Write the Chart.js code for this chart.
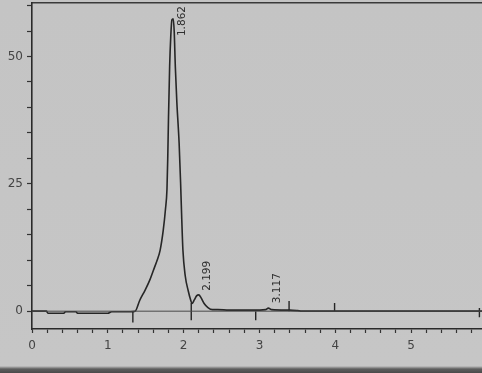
<!DOCTYPE html>
<html>
<head>
<meta charset="utf-8">
<script src="https://cdn.jsdelivr.net/npm/chart.js@4/dist/chart.umd.min.js"></script>
<style>
  html, body { margin: 0; padding: 0; overflow: hidden; }
  body {
    width: 482px; height: 373px;
    background: linear-gradient(to bottom, #c4c4c4 0, #c6c6c6 366px, #5e5e5e 369px, #4a4a4a 373px);
  }
  #wrap { position: relative; width: 492px; height: 373px; }
  canvas { display: block; }
</style>
</head>
<body>
<div id="wrap"><canvas id="chart" width="492" height="373"></canvas></div>
<script>
// retention time (min) and detector signal
const times = [0, 0.19, 0.21, 0.42, 0.44, 0.58, 0.6, 1.0, 1.05, 1.3,
  1.36, 1.42, 1.49, 1.55, 1.6, 1.65, 1.69, 1.73, 1.76, 1.78, 1.79, 1.8, 1.815, 1.83, 1.845, 1.862,
  1.875, 1.89, 1.91, 1.94, 1.96, 1.975, 1.99, 2.02, 2.06, 2.09, 2.11,
  2.14, 2.17, 2.199, 2.23, 2.27, 2.32, 2.38, 2.45, 2.6, 2.9, 3.08, 3.117, 3.16, 3.4, 3.5, 3.56, 6.0];
const signal = [0, 0, -0.4, -0.4, -0.1, -0.1, -0.4, -0.4, -0.1, -0.1,
  0, 2.1, 4.1, 6, 8, 10, 12, 15.8, 20, 24, 30, 38, 48, 54, 57.2, 57.4,
  55, 48, 41, 33, 25, 18, 12, 7, 4, 2.3, 1.5,
  2.2, 3.0, 3.2, 2.6, 1.5, 0.7, 0.3, 0.3, 0.2, 0.2, 0.3, 0.6, 0.3, 0.2, 0.1, 0, 0];

// integrator baseline
const baseTimes = [0, 6];
const baseValues = [0, 0];

// peak labels
const peakTimes = [1.862, 2.199, 3.117];
const peakHeights = [57.4, 3.2, 0.6];
const peakNames = ['1.862', '2.199', '3.117'];

// event marks on the baseline (start / end of integration)
const eventTimes = [1.33, 2.10, 2.95, 3.39, 3.99, 5.9];
const eventLow = [-2.2, -1.8, -1.8, 0, 0, -1.2];
const eventHigh = [0, 1.6, 0, 2.0, 1.6, 0.6];

const xTicksStep = 0.2;
const yTicksStep = 5;

const traceData = times.map((t, i) => ({ x: t, y: signal[i] }));
const baseData = baseTimes.map((t, i) => ({ x: t, y: baseValues[i] }));
const eventData = [];
eventTimes.forEach((t, i) => {
  eventData.push({ x: t, y: eventLow[i] }, { x: t, y: eventHigh[i] }, { x: t, y: null });
});

const ink = '#262626';

// no extra room for half labels at the axis ends
const noEndPadding = s => {
  s.paddingTop = 0; s.paddingBottom = 0; s.paddingLeft = 0; s.paddingRight = 0;
};

const peakLabels = {
  id: 'peakLabels',
  afterDatasetsDraw(chart) {
    const { ctx, scales: { x, y }, chartArea } = chart;
    ctx.save();
    ctx.font = '10.5px "DejaVu Sans", sans-serif';
    ctx.fillStyle = '#2e2e2e';
    ctx.textBaseline = 'middle';
    ctx.textAlign = 'left';
    peakTimes.forEach((t, i) => {
      const px = x.getPixelForValue(t) + 9;
      const w = ctx.measureText(peakNames[i]).width;
      let py = y.getPixelForValue(peakHeights[i]) - 4;
      py = Math.max(Math.min(py, y.getPixelForValue(0) - 8), chartArea.top + w + 3);
      ctx.save();
      ctx.translate(px, py);
      ctx.rotate(-Math.PI / 2);
      ctx.fillText(peakNames[i], 0, 0);
      ctx.restore();
    });
    ctx.restore();
  }
};

new Chart(document.getElementById('chart'), {
  type: 'line',
  data: {
    datasets: [
      { data: baseData, borderColor: '#4a4a4a', borderWidth: 1, pointRadius: 0 },
      { data: traceData, borderColor: ink, borderWidth: 1.6, pointRadius: 0, cubicInterpolationMode: 'monotone' },
      { data: eventData, borderColor: ink, borderWidth: 1.4, pointRadius: 0, spanGaps: false }
    ]
  },
  plugins: [peakLabels],
  options: {
    responsive: false,
    animation: false,
    events: [],
    layout: { padding: { top: 3, right: 5, left: 0, bottom: 0 } },
    plugins: { legend: { display: false }, tooltip: { enabled: false } },
    scales: {
      x: {
        type: 'linear',
        min: 0,
        max: 6,
        afterFit: s => { s.height = 44; noEndPadding(s); },
        border: { display: true, color: '#2a2a2a', width: 1.6 },
        grid: { drawOnChartArea: false, drawTicks: true, tickLength: 4, tickColor: '#333', tickWidth: 1.2 },
        ticks: {
          stepSize: xTicksStep,
          autoSkip: false,
          includeBounds: false,
          maxRotation: 0,
          padding: 6,
          color: '#444',
          font: { family: '"DejaVu Sans", sans-serif', size: 12 },
          callback: v => Math.abs(v - Math.round(v)) < 1e-6 ? String(Math.round(v)) : ''
        }
      },
      xTop: {
        type: 'linear',
        position: 'top',
        display: true,
        afterFit: s => { s.height = 0; noEndPadding(s); },
        border: { display: true, color: '#3a3a3a', width: 1.5 },
        grid: { display: false },
        ticks: { display: false }
      },
      y: {
        type: 'linear',
        min: -3.5,
        max: 60.5,
        afterFit: s => { s.width = 32; noEndPadding(s); },
        border: { display: true, color: '#2a2a2a', width: 1.6 },
        grid: { drawOnChartArea: false, drawTicks: true, tickLength: 5, tickColor: '#333', tickWidth: 1.2 },
        ticks: {
          stepSize: yTicksStep,
          autoSkip: false,
          includeBounds: false,
          padding: 4,
          color: '#444',
          font: { family: '"DejaVu Sans", sans-serif', size: 12 },
          callback: v => v % 25 === 0 ? String(v) : ''
        }
      }
    }
  }
});
</script>
</body>
</html>
